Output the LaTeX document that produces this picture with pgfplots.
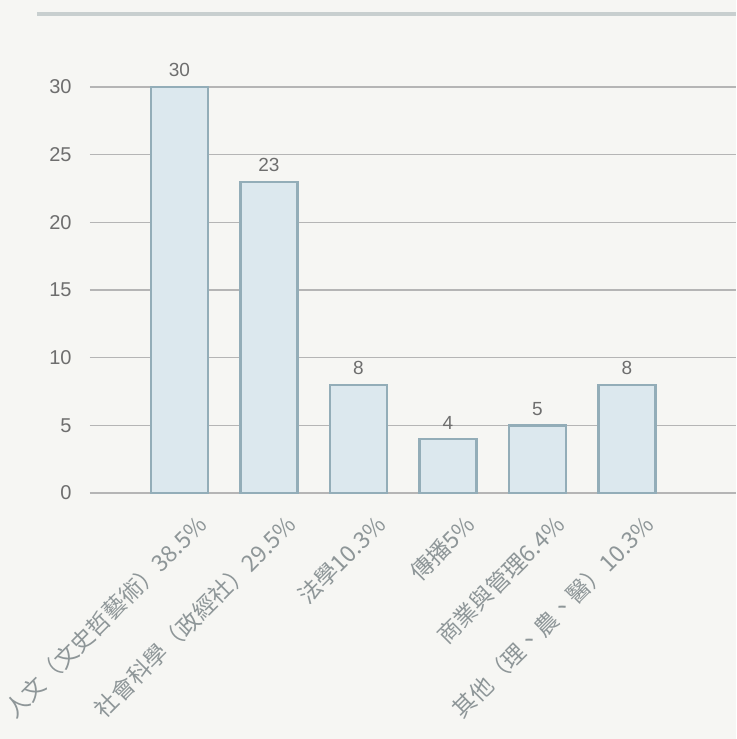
\documentclass[border=0pt]{standalone}
\usepackage{fontspec}
\setmainfont{Liberation Sans}
\newfontfamily\cjk{Noto Sans CJK TC}
\usepackage{pgfplots}
\pgfplotsset{compat=1.18}
\definecolor{bg}{HTML}{F6F6F3}
\definecolor{topline}{HTML}{C8CFCF}
\definecolor{gridc}{HTML}{B5B5B5}
\definecolor{barfill}{HTML}{DCE8EE}
\definecolor{baredge}{HTML}{93ADB8}
\definecolor{tickc}{HTML}{6E6E6E}
\definecolor{labc}{HTML}{8E9698}
\begin{document}
\begin{tikzpicture}
\path[use as bounding box, fill=bg] (0,0) rectangle (368pt,-369.5pt);
\clip (0,0) rectangle (368pt,-369.5pt);
\draw[topline, line width=1.6pt] (18.5pt,-7pt) -- (368pt,-7pt);
\begin{axis}[
    at={(45pt,-246.5pt)}, anchor=south west,
    scale only axis, width=323pt, height=203pt,
    xmin=-1, xmax=6.22, ymin=0, ymax=30,
    ybar, bar width=28.5pt,
    ytick={0,5,...,30},
    xtick={0,...,5},
    xticklabels={人文（文史哲藝術）38.5\%, 社會科學（政經社）29.5\%, 法學10.3\%, 傳播5\%, 商業與管理6.4\%, 其他（理、農、醫）10.3\%},
    ymajorgrids, grid style={gridc, line width=0.6pt},
    axis line style={draw=none}, major tick length=0pt,
    tick label style={font=\fontsize{10}{12}\selectfont, text=tickc},
    yticklabel style={inner sep=0pt, xshift=-9pt},
    xticklabel style={font=\cjk\fontsize{11.5}{13}\selectfont, text=labc, inner sep=0pt, xshift=11.5pt, yshift=-13.5pt, rotate=45, anchor=east},
    nodes near coords,
    nodes near coords style={font=\fontsize{9.5}{11}\selectfont, text=tickc, yshift=1pt},
    /pgf/number format/assume math mode=true,
    clip=false,
]
\addplot[fill=barfill, draw=baredge, line width=1.2pt] coordinates {(0,30) (1,23) (2,8) (3,4) (4,5) (5,8)};
\end{axis}
\end{tikzpicture}
\end{document}
